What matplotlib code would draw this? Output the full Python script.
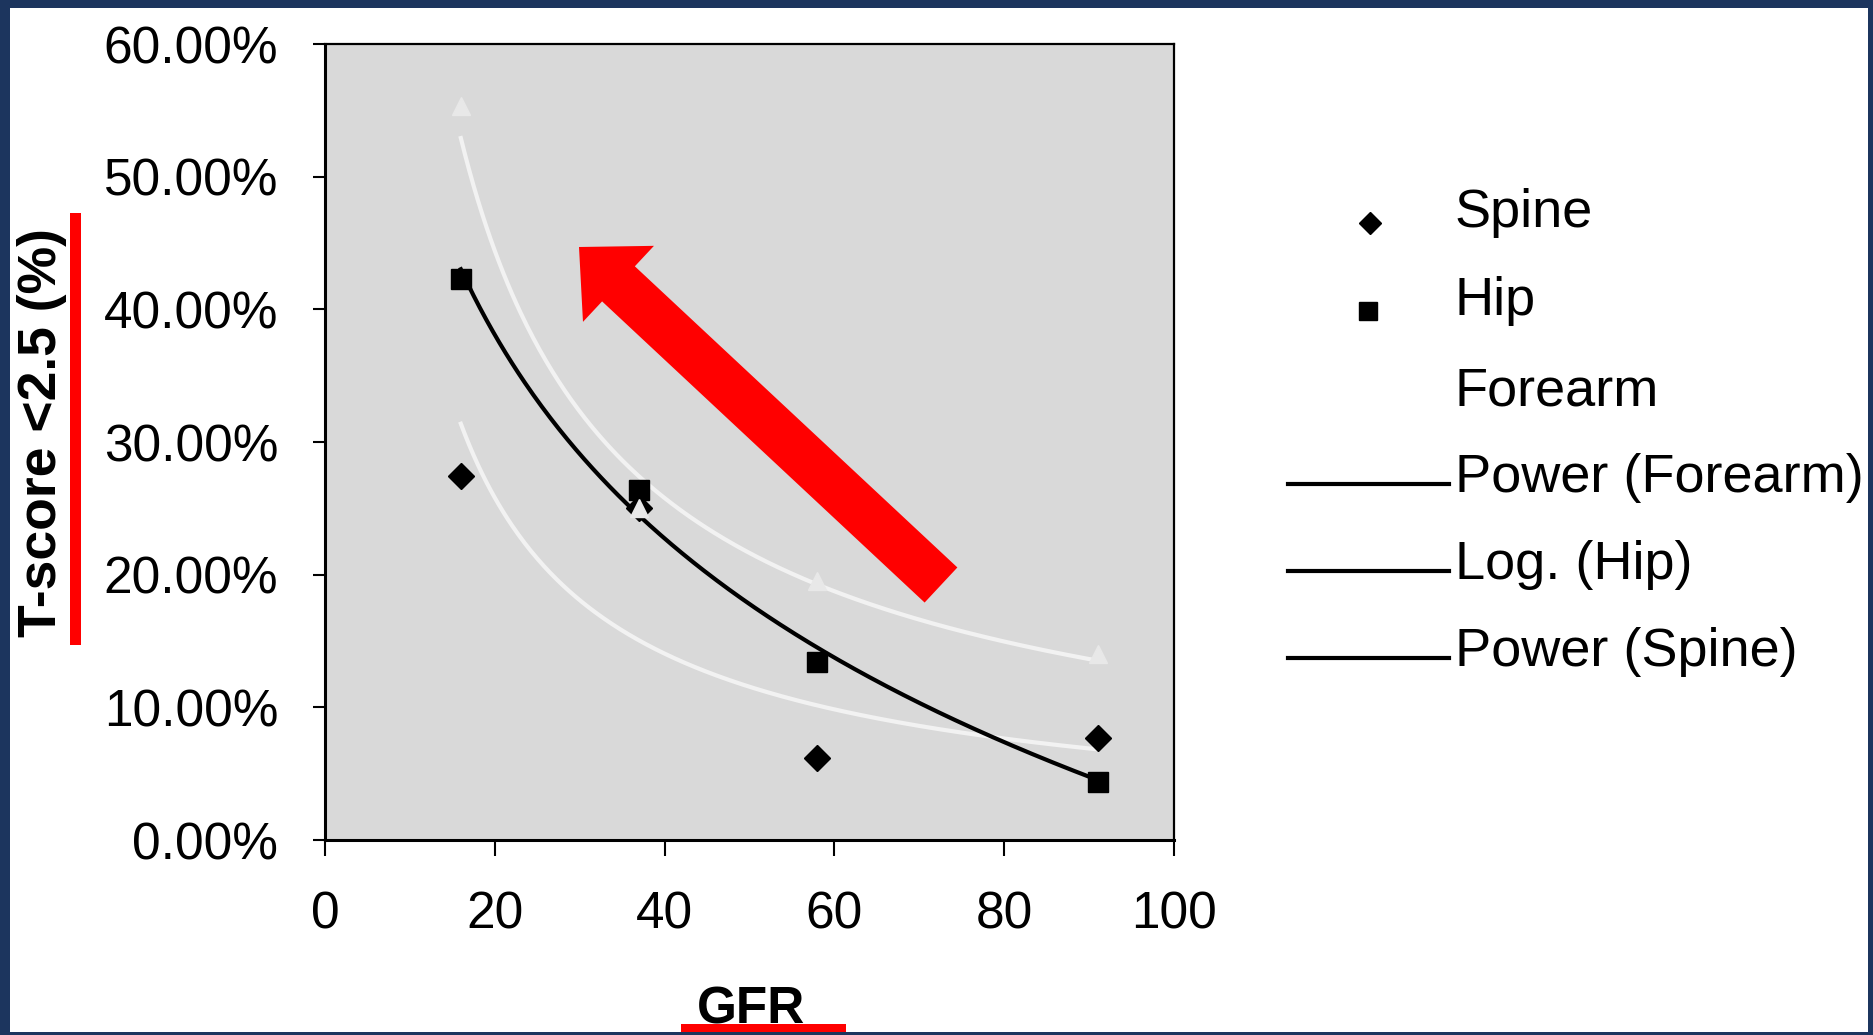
import numpy as np
import matplotlib
matplotlib.use('Agg')
import matplotlib.pyplot as plt
from matplotlib.ticker import PercentFormatter
from matplotlib.patches import Rectangle, FancyArrow

plt.rcParams['font.family'] = ['Liberation Sans', 'DejaVu Sans']

# data
gfr = [16, 37, 58, 91]
spine = [27.4, 25.0, 6.2, 7.7]
hip = [42.3, 26.4, 13.4, 4.4]
forearm = [55.3, 25.0, 19.5, 14.0]

x_ticks = [0, 20, 40, 60, 80, 100]
y_ticks = [0, 10, 20, 30, 40, 50, 60]

legend_labels = ['Spine', 'Hip', 'Forearm', 'Power (Forearm)', 'Log. (Hip)', 'Power (Spine)']

W, H = 1873, 1035
fig = plt.figure(figsize=(W / 100, H / 100), dpi=100)
fig.patch.set_facecolor('white')

ax = fig.add_axes([325 / W, (H - 840) / H, 849 / W, 796 / H])
ax.set_facecolor('#d9d9d9')

# trendlines, fitted like Excel does
xs = np.linspace(min(gfr), max(gfr), 300)
lx = np.log(gfr)
bf, af = np.polyfit(lx, np.log(forearm), 1)
bs, as_ = np.polyfit(lx, np.log(spine), 1)
bh, ah = np.polyfit(lx, hip, 1)

ax.plot(xs, np.exp(af) * xs ** bf, color='#f2f2f2', lw=3, zorder=2)
ax.plot(xs, np.exp(as_) * xs ** bs, color='#f2f2f2', lw=3, zorder=2)
ax.plot(xs, ah + bh * np.log(xs), color='black', lw=3, zorder=3)

ax.plot(gfr, spine, 'D', color='black', ms=13, zorder=4)
ax.plot(gfr, hip, 's', color='black', ms=15, zorder=4)
ax.plot(gfr, forearm, '^', color='#e8e8e8', ms=13, zorder=5)

ax.set_xlim(0, 100)
ax.set_ylim(0, 60)
ax.set_xticks(x_ticks)
ax.set_yticks(y_ticks)
ax.yaxis.set_major_formatter(PercentFormatter(xmax=100, decimals=2))
ax.tick_params(axis='y', direction='out', length=8.6, width=1.5, pad=25, labelsize=37)
ax.tick_params(axis='x', direction='out', length=11.5, width=1.5, pad=25, labelsize=37)
for s in ax.spines.values():
    s.set_linewidth(1.6)
ax.spines['left'].set_linewidth(2.2)
ax.spines['bottom'].set_linewidth(2.2)

# overlay in pixel coordinates for labels, legend and annotations
ov = fig.add_axes([0, 0, 1, 1], zorder=10)
ov.set_xlim(0, W)
ov.set_ylim(H, 0)
ov.axis('off')

ov.text(42, 433, 'T-score <2.5 (%)', rotation=90, ha='center', va='center',
        fontsize=38.5, fontweight='bold')
ov.text(751, 1023, 'GFR', ha='center', va='baseline', fontsize=37, fontweight='bold')

# legend
rows = [213, 301, 391, 478, 565, 652]
for y, lab in zip(rows, legend_labels):
    ov.text(1455, y, lab, ha='left', va='center', fontsize=39)
ov.plot([1370], [rows[0] + 10], 'D', color='black', ms=11)
ov.plot([1368], [rows[1] + 10], 's', color='black', ms=13)
for y in rows[3:]:
    ov.plot([1288, 1449], [y + 6, y + 6], color='black', lw=3)

# red highlights
ov.add_patch(Rectangle((70, 213), 11, 432, color='red', lw=0))
ov.add_patch(Rectangle((681, 1024), 165, 11, color='red', lw=0))
ov.add_patch(FancyArrow(941, 585, -362, -338, width=48, head_width=104,
                        head_length=54, length_includes_head=True,
                        color='red', lw=0))

# frame
navy = '#1c355e'
ov.add_patch(Rectangle((0, 0), 10, H, color=navy, lw=0))
ov.add_patch(Rectangle((0, 0), W, 8, color=navy, lw=0))
ov.add_patch(Rectangle((W - 5, 0), 5, H, color=navy, lw=0))
ov.add_patch(Rectangle((0, H - 3), W, 3, color=navy, lw=0))

fig.savefig('out.png', dpi=100)
